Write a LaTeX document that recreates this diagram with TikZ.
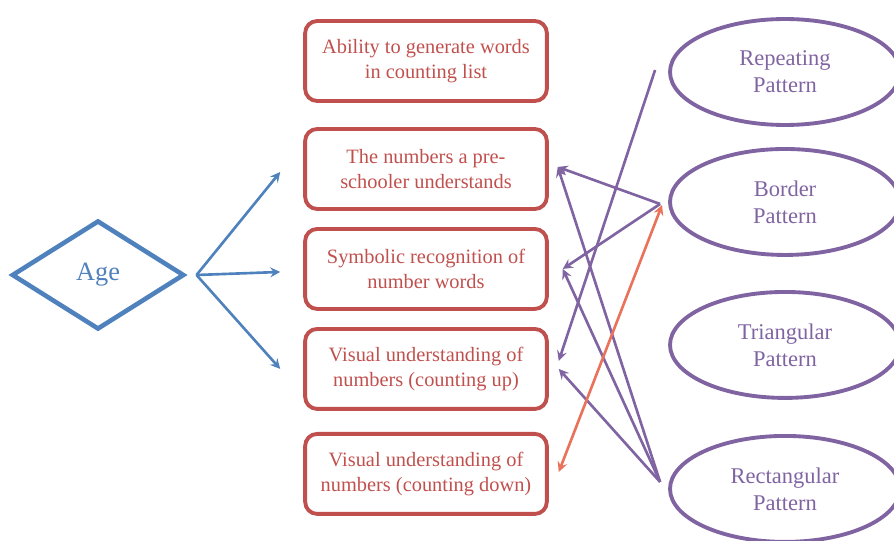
\documentclass[tikz,border=0pt]{standalone}
\usepackage{fontspec}
\setmainfont{Liberation Serif}
\usepackage{tikz}
\usetikzlibrary{shapes.geometric,arrows}
\definecolor{AgeBlue}{HTML}{4F81BD}
\definecolor{SkillRed}{HTML}{C0504D}
\definecolor{PatPurple}{HTML}{8064A2}
\definecolor{LinkOrange}{HTML}{E9735A}
\tikzstyle{agebox} = [diamond, 
aspect=1.6, 
inner sep=0pt, 
minimum width=3.45cm, 
minimum height=2.18cm, 
draw=AgeBlue, 
line width=2.6pt, 
text=AgeBlue, 
font=\fontsize{15}{18}\selectfont]
\tikzstyle{skill} = [rectangle, rounded corners=0.24cm, 
minimum width=4.78cm, 
minimum height=1.6cm, 
align=center, 
draw=SkillRed, 
line width=2.2pt, 
text=SkillRed, 
font=\fontsize{11.6}{14.2}\selectfont]
\tikzstyle{pattern} = [ellipse, 
minimum width=4.6cm, 
minimum height=2.12cm, 
align=center, 
draw=PatPurple, 
line width=2.2pt, 
text=PatPurple, 
font=\fontsize{12.8}{15.3}\selectfont]
\tikzstyle{arrow} = [line width=1.5pt,->,>=stealth]

\begin{document}
\begin{tikzpicture}[x=0.02cm,y=-0.02cm,node distance=2cm]
                \clip (0,0) rectangle (894,541);
                \node[agebox] (age) at (98,275) {\raisebox{-2pt}{Age}};

                \node[skill] (words) at (426,61) {\raisebox{-2pt}{\parbox{4.6cm}{\centering Ability to generate words\\in counting list}}};
                \node[skill, below of=words, yshift=-0.16cm] (understand) {\raisebox{-2pt}{\parbox{4.6cm}{\centering The numbers a pre-\\schooler understands}}};
                \node[skill, below of=understand] (symbolic) {\raisebox{-2pt}{\parbox{4.6cm}{\centering Symbolic recognition of\\number words}}};
                \node[skill, below of=symbolic] (countup) {\raisebox{-2pt}{\parbox{4.6cm}{\centering Visual understanding of\\numbers (counting up)}}};
                \node[skill, below of=countup, yshift=-0.1cm] (countdown) {\raisebox{-2pt}{\parbox{4.6cm}{\centering Visual understanding of\\numbers (counting down)}}};

                \node[pattern] (repeat) at (785,72) {Repeating\\Pattern};
                \node[pattern, below of=repeat, node distance=2.6cm] (border) {Border\\Pattern};
                \node[pattern, below of=border, node distance=2.86cm] (triangle) {Triangular\\Pattern};
                \node[pattern, below of=triangle, node distance=2.88cm] (rectangle) {Rectangular\\Pattern};

                \coordinate (fork) at ([xshift=0.2cm]age.east);
                \draw[arrow, AgeBlue] (fork) -- ([xshift=-0.46cm,yshift=-0.06cm]understand.west);
                \draw[arrow, AgeBlue] (fork) -- ([xshift=-0.46cm,yshift=-0.06cm]symbolic.west);
                \draw[arrow, AgeBlue] (fork) -- ([xshift=-0.46cm]countup.west);

                \draw[arrow, PatPurple] ([xshift=-0.26cm,yshift=0.04cm]repeat.west) -- ([xshift=0.2cm,yshift=0.16cm]countup.east);
                \draw[arrow, PatPurple] ([xshift=-0.16cm,yshift=-0.04cm]border.west) -- ([xshift=0.18cm,yshift=0.04cm]understand.east);
                \draw[arrow, PatPurple] ([xshift=-0.16cm,yshift=-0.04cm]border.west) -- ([xshift=0.28cm]symbolic.east);
                \draw[arrow, PatPurple] ([xshift=-0.16cm,yshift=0.14cm]rectangle.west) -- ([xshift=0.18cm,yshift=0.04cm]understand.east);
                \draw[arrow, PatPurple] ([xshift=-0.16cm,yshift=0.14cm]rectangle.west) -- ([xshift=0.28cm]symbolic.east);
                \draw[arrow, PatPurple] ([xshift=-0.16cm,yshift=0.14cm]rectangle.west) -- ([xshift=0.2cm]countup.east);
                \draw[arrow, <->, LinkOrange] ([xshift=0.2cm,yshift=0.04cm]countdown.east) -- ([xshift=-0.12cm,yshift=-0.06cm]border.west);
            \end{tikzpicture}
\end{document}
